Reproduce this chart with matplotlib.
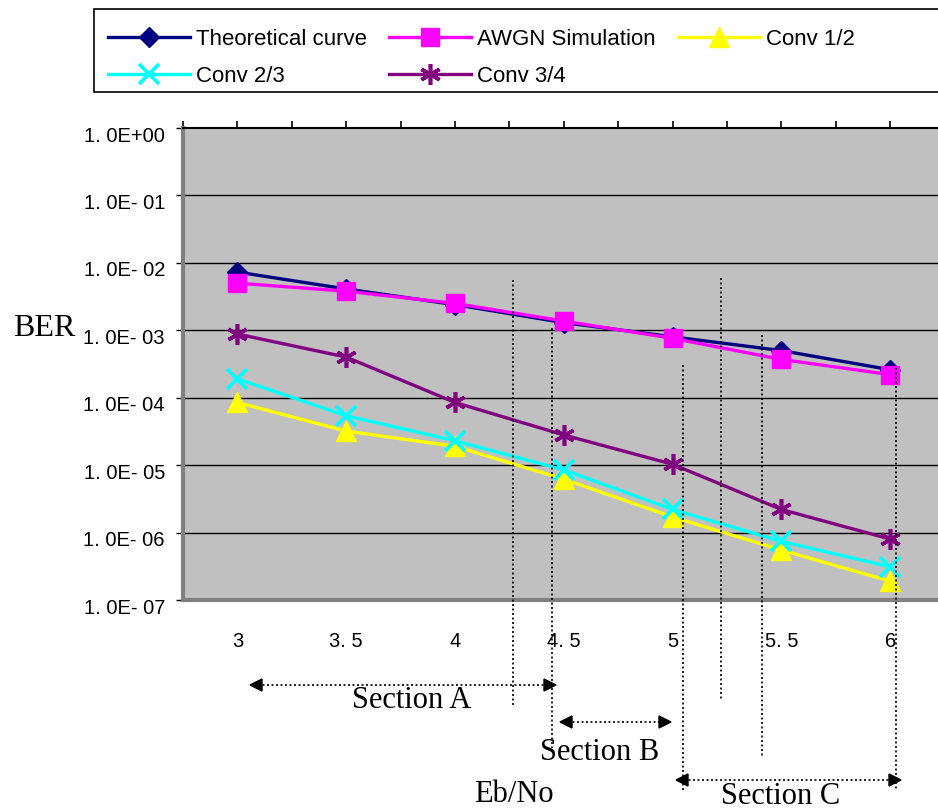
import matplotlib
matplotlib.use("Agg")
import matplotlib.pyplot as plt
import matplotlib.transforms as mtransforms
from matplotlib.patches import Rectangle
import numpy as np

# values
ebno = [3, 3.5, 4, 4.5, 5, 5.5, 6]
xtick_labels = ["3", "3. 5", "4", "4. 5", "5", "5. 5", "6"]
theory = [7.3e-3, 4.1e-3, 2.4e-3, 1.3e-3, 8.0e-4, 5.0e-4, 2.6e-4]
awgn = [5.0e-3, 3.8e-3, 2.5e-3, 1.37e-3, 7.6e-4, 3.7e-4, 2.2e-4]
conv12 = [8.5e-5, 3.2e-5, 1.9e-5, 6.2e-6, 1.7e-6, 5.5e-7, 1.9e-7]
conv23 = [1.9e-4, 5.4e-5, 2.3e-5, 8.5e-6, 2.2e-6, 7.4e-7, 3.1e-7]
conv34 = [8.8e-4, 4.0e-4, 8.5e-5, 2.8e-5, 1.03e-5, 2.2e-6, 8.0e-7]
ytick_vals = [1e0, 1e-1, 1e-2, 1e-3, 1e-4, 1e-5, 1e-6, 1e-7]
ytick_labels = ["1. 0E+00", "1. 0E- 01", "1. 0E- 02", "1. 0E- 03",
                "1. 0E- 04", "1. 0E- 05", "1. 0E- 06", "1. 0E- 07"]

W, H = 938, 810
plt.rcParams["font.family"] = ["Liberation Sans", "DejaVu Sans"]

fig = plt.figure(figsize=(W / 100, H / 100), dpi=100)

def fx(px):
    return px / W

def fy(py):
    return 1 - py / H

# axes box: left 183px, top 128px, bottom 600px, right past the edge
ax = fig.add_axes([fx(183), fy(600), (944.6 - 183) / W, (600 - 128) / H])
ax.set_facecolor("#c0c0c0")
ax.set_yscale("log")
ax.set_ylim(1e-7, 1)
ax.set_xlim(2.75, 6.25)

for v in ytick_vals[1:-1]:
    ax.axhline(v, color="black", lw=1.0, zorder=1)

lw = 2.4
l1, = ax.plot(ebno, theory, color="#000080", marker="D", ms=10, lw=lw, label="Theoretical curve", zorder=3)
l2, = ax.plot(ebno, awgn, color="#ff00ff", marker="s", ms=13.5, lw=lw, label="AWGN Simulation", zorder=3)
l3, = ax.plot(ebno, conv12, color="#ffff00", marker="^", ms=15, lw=lw, label="Conv 1/2", zorder=3)
l4, = ax.plot(ebno, conv23, color="#00ffff", marker="x", ms=15, mew=2.6, lw=lw, label="Conv 2/3", zorder=3)
l5, = ax.plot(ebno, conv34, color="#800080", marker=(6, 2, 0), ms=15, mew=2.6, lw=lw, label="Conv 3/4", zorder=3)

# y axis
ax.set_yticks(ytick_vals)
ax.set_yticklabels(ytick_labels, fontsize=14.5)
ax.yaxis.set_minor_locator(matplotlib.ticker.NullLocator())
ax.tick_params(axis="y", direction="out", length=5, width=1, pad=8)
shift = mtransforms.ScaledTranslation(0, -0.06, fig.dpi_scale_trans)
for lab in ax.get_yticklabels():
    lab.set_transform(lab.get_transform() + shift)

# x axis: labels under the plot, tick marks on top
ax.set_xticks(ebno)
ax.set_xticklabels(xtick_labels, fontsize=14.5)
ax.tick_params(axis="x", which="major", top=True, bottom=False, direction="out",
               length=5, width=1.2, pad=18)
ax.set_xticks(np.arange(2.75, 6.26, 0.5), minor=True)
ax.tick_params(axis="x", which="minor", top=True, bottom=False, direction="out", length=5, width=1.2)

for s in ["left", "bottom"]:
    ax.spines[s].set_color("#808080")
    ax.spines[s].set_linewidth(3)
ax.spines["top"].set_color("black")
ax.spines["top"].set_linewidth(1.5)
ax.spines["right"].set_visible(False)

# dotted section markers (figure pixels)
vlines = [(513, 280, 705), (552, 328, 748), (683, 365, 790),
          (721, 278, 700), (762, 335, 757), (896, 368, 790)]
for x, y0, y1 in vlines:
    fig.add_artist(plt.Line2D([fx(x), fx(x)], [fy(y0), fy(y1)], color="black",
                              lw=1.2, ls=(0, (1.2, 1.5)), zorder=10))

arrows = [(250, 556, 685), (560, 671, 722), (676, 901, 780)]
for x0, x1, y in arrows:
    fig.add_artist(plt.Line2D([fx(x0 + 8), fx(x1 - 8)], [fy(y), fy(y)], color="black",
                              lw=1.2, ls=(0, (1.2, 1.5))))
    fig.add_artist(plt.Polygon([[fx(x0), fy(y)], [fx(x0 + 12), fy(y - 6)], [fx(x0 + 12), fy(y + 6)]],
                               closed=True, color="black", transform=fig.transFigure))
    fig.add_artist(plt.Polygon([[fx(x1), fy(y)], [fx(x1 - 12), fy(y - 6)], [fx(x1 - 12), fy(y + 6)]],
                               closed=True, color="black", transform=fig.transFigure))

serif = ["Liberation Serif", "DejaVu Serif"]
fig.text(fx(412), fy(701), "Section A", family=serif, fontsize=22, ha="center", va="center")
fig.text(fx(600), fy(753), "Section B", family=serif, fontsize=22, ha="center", va="center")
fig.text(fx(781), fy(796), "Section C", family=serif, fontsize=22, ha="center", va="center")
fig.text(fx(514), fy(794), "Eb/No", family=serif, fontsize=22, ha="center", va="center")
fig.text(fx(44), fy(328), "BER", family=serif, fontsize=23, ha="center", va="center")

# legend box running off the right edge
fig.add_artist(Rectangle((fx(94), fy(92)), fx(950 - 94), (92 - 9) / H, transform=fig.transFigure,
                         facecolor="white", edgecolor="black", lw=1.2))
handles = [l1, l4, l2, l5, l3]
leg = fig.legend(handles, [h.get_label() for h in handles], ncol=3, loc="upper left",
                 bbox_to_anchor=(fx(92), fy(13)), frameon=False, fontsize=16,
                 handlelength=3.7, handletextpad=0.27, columnspacing=1.0,
                 labelspacing=0.75, numpoints=1, borderpad=0.2)

fig.savefig("out.png", dpi=100)
